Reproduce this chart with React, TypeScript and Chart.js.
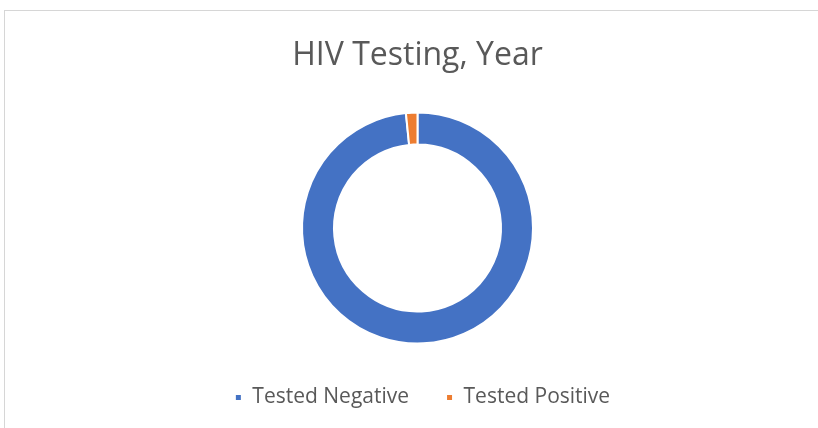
import React, { useEffect, useRef } from "react";
import { Chart, registerables } from "chart.js";

Chart.register(...registerables);

const chartTitle = "HIV Testing, Year";
const categories = ["Tested Negative", "Tested Positive"];
const values = [98.4, 1.6];
const colors = ["#4472C4", "#ED7D31"];

const legendShift = {
  id: "legendShift",
  afterLayout(chart: any) {
    const lg = chart.legend;
    if (lg) {
      lg.left += 5;
      lg.right += 5;
    }
  },
};

export default function App() {
  const ref = useRef<HTMLCanvasElement | null>(null);

  useEffect(() => {
    if (!ref.current) return;
    const fontFamily = "'Open Sans', sans-serif";
    const chart = new Chart(ref.current, {
      type: "doughnut",
      data: {
        labels: categories,
        datasets: [
          {
            data: values,
            backgroundColor: colors,
            borderColor: "#ffffff",
            borderWidth: 2,
            radius: 115.5,
            cutout: 87.5,
          } as any,
        ],
      },
      plugins: [legendShift],
      options: {
        responsive: false,
        maintainAspectRatio: false,
        devicePixelRatio: 1,
        animation: false,
        layout: { padding: { left: 0, right: 0, top: 0, bottom: 10 } },
        plugins: {
          title: {
            display: true,
            text: chartTitle,
            color: "#595959",
            font: { family: fontFamily, size: 32, weight: "normal" },
            padding: { top: 25.8, bottom: 30.8 },
          },
          legend: {
            display: true,
            position: "bottom",
            labels: {
              color: "#595959",
              font: { family: fontFamily, size: 21 },
              boxWidth: 7,
              boxHeight: 7,
              padding: 37,
            },
          },
          tooltip: { enabled: false },
        },
      },
    });
    return () => chart.destroy();
  }, []);

  return (
    <div
      style={{
        position: "fixed",
        left: 0,
        top: 0,
        width: 818,
        height: 428,
        overflow: "hidden",
        background: "#ffffff",
      }}
    >
      <div
        style={{
          position: "absolute",
          left: 4,
          top: 10,
          width: 827,
          height: 430,
          border: "1px solid #d6d6d6",
          boxSizing: "border-box",
        }}
      >
        <canvas
          ref={ref}
          width={825}
          height={417}
          style={{ position: "absolute", left: 0, top: 0, width: 825, height: 417 }}
        />
      </div>
    </div>
  );
}
